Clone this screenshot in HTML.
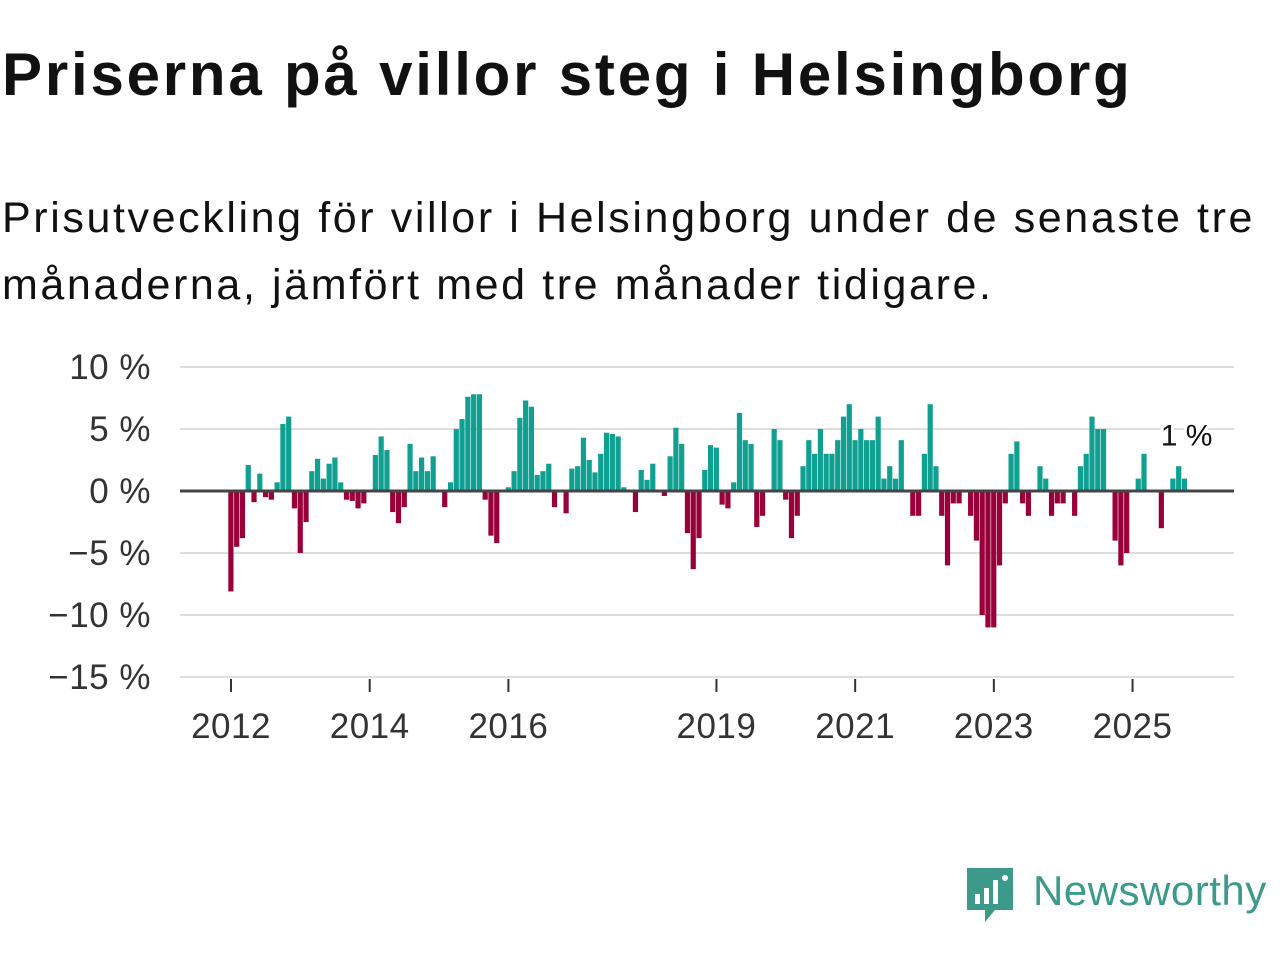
<!DOCTYPE html>
<html><head><meta charset="utf-8"><style>
body{margin:0;width:1280px;height:960px;background:#fff;font-family:"Liberation Sans",sans-serif;overflow:hidden;position:relative}
h1{position:absolute;left:2px;top:40px;margin:0;font-size:60px;font-weight:bold;color:#111;letter-spacing:2.8px;white-space:nowrap}
.sub{position:absolute;left:2px;top:185px;margin:0;font-size:43px;line-height:67px;color:#111;width:1280px;letter-spacing:2.6px}
</style></head><body>
<h1>Priserna på villor steg i Helsingborg</h1>
<p class="sub">Prisutveckling för villor i Helsingborg under de senaste tre månaderna, jämfört med tre månader tidigare.</p>
<svg id="chart" width="1280" height="960" style="position:absolute;left:0;top:0" font-family="Liberation Sans, sans-serif"></svg>
<div style="position:absolute;left:965px;top:866px;display:flex;align-items:center">
<svg width="50" height="58"><path d="M2 2h46v42H30l-10 12V44H2z" fill="#3d9a8b"/><rect x="10" y="28" width="5" height="10" fill="#fff"/><rect x="19" y="22" width="5" height="16" fill="#fff"/><rect x="28" y="14" width="5" height="24" fill="#fff"/><circle cx="40" cy="12" r="3" fill="#fff"/></svg>
<span style="font-size:42px;color:#3d9a8b;margin-left:18px;margin-top:-8px;letter-spacing:0.5px">Newsworthy</span></div>
<script>
const values=[-8.1,-4.5,-3.8,2.1,-0.9,1.4,-0.5,-0.7,0.7,5.4,6.0,-1.4,-5.0,-2.5,1.6,2.6,1.0,2.2,2.7,0.7,-0.7,-0.8,-1.4,-1.0,0,2.9,4.4,3.3,-1.7,-2.6,-1.3,3.8,1.6,2.7,1.6,2.8,0,-1.3,0.7,5.0,5.8,7.6,7.8,7.8,-0.7,-3.6,-4.2,0,0.3,1.6,5.9,7.3,6.8,1.3,1.6,2.2,-1.3,0,-1.8,1.8,2.0,4.3,2.5,1.5,3.0,4.7,4.6,4.4,0.3,0,-1.7,1.7,0.9,2.2,0,-0.4,2.8,5.1,3.8,-3.4,-6.3,-3.8,1.7,3.7,3.5,-1.1,-1.4,0.7,6.3,4.1,3.8,-2.9,-2.0,0,5.0,4.1,-0.7,-3.8,-2.0,2.0,4.1,3.0,5.0,3.0,3.0,4.1,6.0,7.0,4.1,5.0,4.1,4.1,6.0,1.0,2.0,1.0,4.1,0,-2,-2,3,7,2,-2,-6,-1,-1,0,-2,-4,-10,-11,-11,-6,-1,3,4,-1,-2,0,2,1,-2,-1,-1,0,-2,2,3,6,5,5,0,-4,-6,-5,0,1,3,0,0,-3,0,1,2,1];
const startYear=2012;
const yTicks=[10,5,0,-5,-10,-15];
const yTickLabels=["10 %","5 %","0 %","−5 %","−10 %","−15 %"];
const xTickYears=[2012,2014,2016,2019,2021,2023,2025];
const annotation="1 %";
const NS="http://www.w3.org/2000/svg";
const svg=document.getElementById('chart');
const X0=231,MW=69.35/12;
const xm=i=>X0+i*MW;
const xy=y=>X0+(y-startYear)*12*MW;
const ys=v=>491-v*12.4;
function mk(t,a){const e=document.createElementNS(NS,t);for(const k in a)e.setAttribute(k,a[k]);svg.appendChild(e);return e;}
yTicks.forEach((t,i)=>{
 const l=mk('line',{x1:180,x2:1234,y1:ys(t),y2:ys(t),stroke:'#ddd','stroke-width':2});
 
 
 const tx=mk('text',{x:151,y:ys(t)+12,'text-anchor':'end','font-size':35,fill:'#333','letter-spacing':'0.5'});
 tx.textContent=yTickLabels[i];
 
 
});
values.forEach((v,i)=>{
 if(!v)return;
 const y0=ys(0),y1=ys(v);
 const r=mk('rect',{x:xm(i)-2.7,width:5.2,y:Math.min(y0,y1),height:Math.abs(y1-y0),fill:v>0?'#10a092':'#99003a'});
 
 
});
const z=mk('line',{x1:180,x2:1234,y1:ys(0),y2:ys(0),stroke:'#444','stroke-width':3});


xTickYears.forEach(yr=>{
 const x=xy(yr);
 const t=mk('line',{x1:x,x2:x,y1:679,y2:692,stroke:'#333','stroke-width':2});
 
 
 const tx=mk('text',{x:x,y:738,'text-anchor':'middle','font-size':35,fill:'#333','letter-spacing':'0.5'});
 tx.textContent=yr;
 
 
});
const last=values.length-1;
const an=mk('text',{x:xm(last)+2,y:ys(values[last])-33,'text-anchor':'middle','font-size':30,fill:'#111',stroke:'#fff','stroke-width':6,'paint-order':'stroke'});
an.textContent=annotation;


</script>
</body></html>
